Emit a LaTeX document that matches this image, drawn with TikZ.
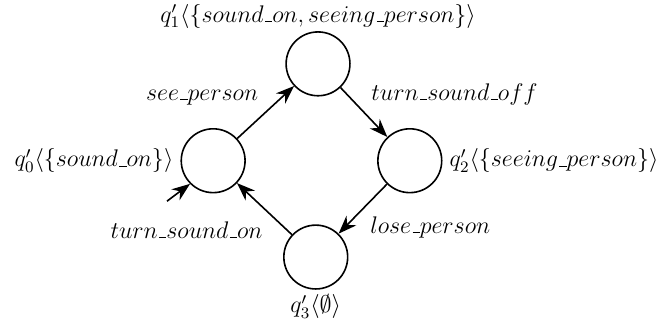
\documentclass[tikz,border=0pt]{standalone}
\usepackage{amsmath,amssymb}
\usepackage{tikz}
\usetikzlibrary{arrows.meta}
\newcommand{\usc}{\kern.06em\vbox{\hrule width.3em}}

\begin{document}
\begin{tikzpicture}[scale=1.0,font=\large,
    state/.style={draw,thick,circle,minimum size=1.12cm,inner sep=0pt},
    trans/.style={-{Stealth[length=3.2mm,width=2.4mm]},thick}]
  \useasboundingbox (0,0) rectangle (11.65,-5.63);
  \node[state,label={[label distance=-2pt]above:{$q'_1\langle\{sound\usc on, seeing\usc person\}\rangle$}}] (q1) at (5.58,-1.12) {};
  \node[state,label=left:{$q'_0\langle\{sound\usc on\}\rangle$}] (q0) at (3.74,-2.82) {};
  \node[state,label=right:{$q'_2\langle\{seeing\usc person\}\rangle$}] (q2) at (7.19,-2.82) {};
  \node[state,label={[label distance=-1pt]below:{$q'_3\langle\emptyset\rangle$}}] (q3) at (5.54,-4.51) {};
  \coordinate (init) at (2.93,-3.53);
  \draw[trans] (init) -- (q0.225);
  \draw[trans] (q0) -- node[above left] {$see\usc person$} (q1);
  \draw[trans] (q1) -- node[above right] {$turn\usc sound\usc off$} (q2);
  \draw[trans] (q2) -- node[below right] {$lose\usc person$} (q3);
  \draw[trans] (q3) -- node[pos=0.4,below left] {$turn\usc sound\usc on$} (q0);
\end{tikzpicture}
\end{document}
